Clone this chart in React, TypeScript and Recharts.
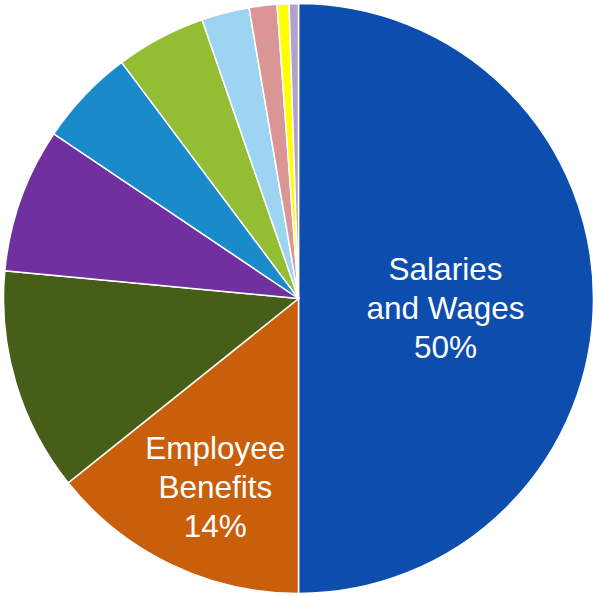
import React from "react";
import { PieChart, Pie, Cell } from "recharts";

const categories = [
  "Salaries and Wages",
  "Employee Benefits",
  "Supplies and Materials",
  "Contracted Services",
  "Utilities",
  "Equipment",
  "Travel",
  "Insurance",
  "Training",
  "Other",
];
const labelLines = [["Salaries", "and Wages"], ["Employee", "Benefits"]];
const values = [50.0, 14.26, 12.24, 7.93, 5.34, 4.93, 2.62, 1.52, 0.65, 0.51];
const colors = [
  "#0D4DAD",
  "#C95E0B",
  "#475E19",
  "#7030A0",
  "#198BCA",
  "#93BD33",
  "#9DD4F1",
  "#D99694",
  "#FFFF00",
  "#B3A2C8",
];

const data = categories.map((name, i) => ({ name, value: values[i] }));

const RAD = Math.PI / 180;
const labelRadiusFactor = [0.5, 0.69];
const labelShift = [
  { dx: -0.5, dy: 9.5 },
  { dx: 5, dy: 5 },
];

const renderLabel = (props: any) => {
  const { cx, cy, midAngle, outerRadius, index, percent } = props;
  if (index > 1) return null;
  const r = outerRadius * labelRadiusFactor[index];
  const x = cx + Math.cos(-midAngle * RAD) * r + labelShift[index].dx;
  const y = cy + Math.sin(-midAngle * RAD) * r + labelShift[index].dy;
  const lines = [...labelLines[index], `${Math.round(percent * 100)}%`];
  const lh = 39;
  return (
    <text
      x={x}
      y={y}
      fill="#ffffff"
      textAnchor="middle"
      fontFamily="Arial, 'Liberation Sans', sans-serif"
      fontSize={31.5}
    >
      {lines.map((t, i) => (
        <tspan key={i} x={x} y={y + 11 + (i - 1) * lh}>
          {t}
        </tspan>
      ))}
    </text>
  );
};

export default function App() {
  return (
    <div style={{ position: "absolute", left: 0, top: 0, width: 593, height: 596, background: "#fff" }}>
      <PieChart width={593} height={596} margin={{ top: 0, right: 0, bottom: 0, left: 0 }}>
        <Pie
          data={data}
          dataKey="value"
          nameKey="name"
          cx={298.5}
          cy={298.5}
          outerRadius={295}
          startAngle={90}
          endAngle={-270}
          stroke="#ffffff"
          strokeWidth={1.5}
          label={renderLabel}
          labelLine={false}
          isAnimationActive={false}
        >
          {data.map((d, i) => (
            <Cell key={d.name} fill={colors[i]} />
          ))}
        </Pie>
      </PieChart>
    </div>
  );
}
